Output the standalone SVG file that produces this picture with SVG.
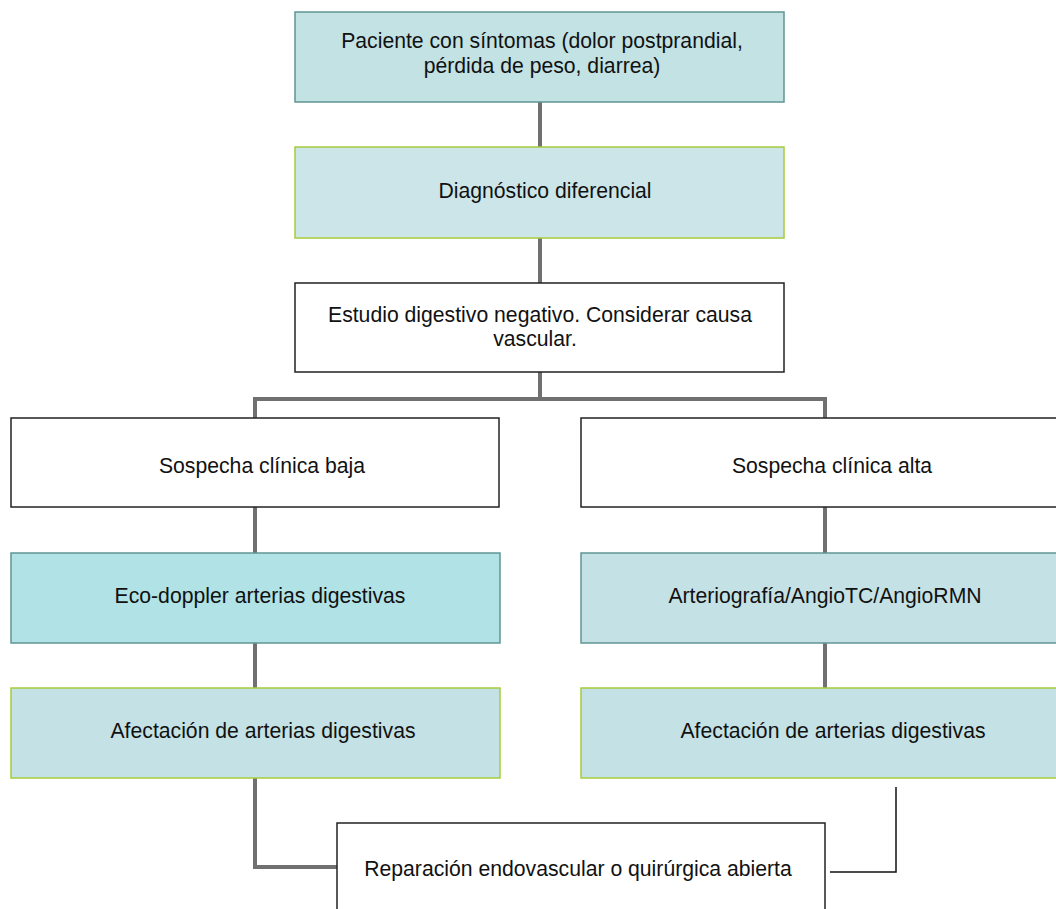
<svg xmlns="http://www.w3.org/2000/svg" width="1056" height="909" viewBox="0 0 1056 909">
<style>
text{font-family:"Liberation Sans",Arial,Helvetica,sans-serif;font-size:21.2px;fill:#111;text-anchor:middle}
.teal{stroke:#5f9592;stroke-width:1.5}
.green{stroke:#a6cc3a;stroke-width:1.5}
.plain{fill:#fff;stroke:#222;stroke-width:1.5}
.conn{fill:none;stroke:#707070;stroke-width:4}
.thin{fill:none;stroke:#111;stroke-width:1.5}
</style>
<rect width="1056" height="909" fill="#fff"/>
<g id="connectors">
<path class="conn" d="M540,102V147M540,238V283M540,372V399M255,399H825M255,397V418M825,397V418M255,507V553M825,507V553M255,643V688M825,643V688M255,778V867H337"/>
<path class="thin" d="M830,872H896V787"/>
</g>
<g id="n1"><rect class="teal" x="295" y="12" width="489" height="90" fill="#c2e2e4"/>
<text x="542" y="47.5">Paciente con síntomas (dolor postprandial,</text>
<text x="542" y="73">pérdida de peso, diarrea)</text></g>
<g id="n2"><rect class="green" x="295" y="147" width="489" height="91" fill="#cce5e8"/>
<text x="545" y="197.5">Diagnóstico diferencial</text></g>
<g id="n3"><rect class="plain" x="295" y="283" width="489" height="89"/>
<text x="540" y="322">Estudio digestivo negativo. Considerar causa</text>
<text x="535" y="345.5">vascular.</text></g>
<g id="n4"><rect class="plain" x="11" y="418" width="488" height="89"/>
<text x="262" y="472.5">Sospecha clínica baja</text></g>
<g id="n5"><rect class="plain" x="581" y="418" width="489" height="89"/>
<text x="832" y="472.5">Sospecha clínica alta</text></g>
<g id="n6"><rect class="teal" x="11" y="553" width="489" height="90" fill="#b0e2e6"/>
<text x="260" y="602.5">Eco-doppler arterias digestivas</text></g>
<g id="n7"><rect class="green" x="11" y="688" width="489" height="90" fill="#c4e2e5"/>
<text x="263" y="737.5">Afectación de arterias digestivas</text></g>
<g id="n8"><rect class="teal" x="581" y="553" width="489" height="90" fill="#c4e2e5"/>
<text x="825" y="602.5">Arteriografía/AngioTC/AngioRMN</text></g>
<g id="n9"><rect class="green" x="581" y="688" width="489" height="90" fill="#c4e2e5"/>
<text x="833" y="737.5">Afectación de arterias digestivas</text></g>
<g id="n10"><rect class="plain" x="337" y="823" width="488" height="100"/>
<text x="578" y="876">Reparación endovascular o quirúrgica abierta</text></g>
</svg>
